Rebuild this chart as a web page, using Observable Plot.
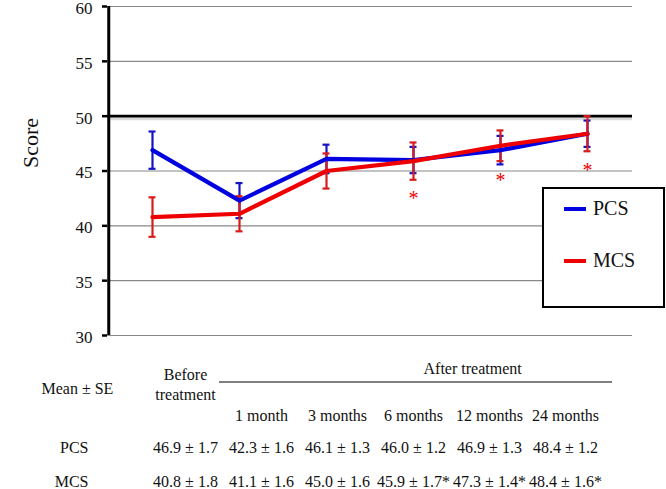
<!DOCTYPE html>
<html>
<head>
<meta charset="utf-8">
<script src="https://cdn.jsdelivr.net/npm/d3@7"></script>
<script src="https://cdn.jsdelivr.net/npm/@observablehq/plot@0.6"></script>
<style>
  html, body { margin: 0; padding: 0; background: #fff; }
  #wrap { position: relative; width: 666px; height: 489px; overflow: hidden; font-family: 'Liberation Serif', 'Times New Roman', serif; }
  #wrap svg { display: block; }
  #wrap svg text { font-family: 'Liberation Serif', 'Times New Roman', serif; }
  .legend { position: absolute; left: 542px; top: 187px; width: 119px; height: 117px; border: 2.5px solid #000; background: #fff; }
  .legend .item { position: absolute; left: 20px; display: flex; align-items: center; font-size: 20px; color: #111; font-family: 'Liberation Serif', serif; }
  .legend .sw { width: 22px; height: 4px; margin-right: 7px; }
</style>
</head>
<body>
<div id="wrap"></div>
<script>
// ---- data ----
const categories = ["Before treatment", "1 month", "3 months", "6 months", "12 months", "24 months"];
const headerLabels = ["Before\ntreatment", "1 month", "3 months", "6 months", "12 months", "24 months"];
const pcsMean = [46.9, 42.3, 46.1, 46.0, 46.9, 48.4];
const pcsSE   = [1.7, 1.6, 1.3, 1.2, 1.3, 1.2];
const mcsMean = [40.8, 41.1, 45.0, 45.9, 47.3, 48.4];
const mcsSE   = [1.8, 1.6, 1.6, 1.7, 1.4, 1.6];
const mcsSig  = [false, false, false, true, true, true];
const yTicks  = [30, 35, 40, 45, 50, 55, 60];
const gridTicks = [30, 35, 40, 45, 55, 60];
const refLine = [50];
const seriesNames = ["PCS", "MCS"];

const BLUE = "#0000E0", RED = "#EE0000", BLUE_ERR = "#1414C4", RED_ERR = "#D81C1C";
const FONT = "'Liberation Serif', 'Times New Roman', serif";

const pcs = categories.map((c, i) => ({cat: c, mean: pcsMean[i], se: pcsSE[i]}));
const mcs = categories.map((c, i) => ({cat: c, mean: mcsMean[i], se: mcsSE[i], sig: mcsSig[i]}));

const W = 666, ML = 107, MR = 34;
const step = (W - ML - MR) / categories.length;

function errMarks(data, color) {
  const capOpts = {x1: "cat", x2: "cat", stroke: color, strokeWidth: 2.2, insetLeft: -3.5, insetRight: -3.5};
  return [
    Plot.ruleX(data, {x: "cat", y1: d => d.mean - d.se, y2: d => d.mean + d.se, stroke: color, strokeWidth: 2.2}),
    Plot.ruleY(data, {y: d => d.mean - d.se, ...capOpts}),
    Plot.ruleY(data, {y: d => d.mean + d.se, ...capOpts})
  ];
}

const chart = Plot.plot({
  width: W, height: 340,
  marginLeft: ML, marginRight: MR, marginTop: 6, marginBottom: 5,
  style: {fontFamily: FONT, background: "#fff", overflow: "visible"},
  x: {type: "point", domain: categories, padding: 0.5, axis: null},
  y: {domain: [30, 60], axis: null},
  marks: [
    Plot.ruleY(gridTicks, {stroke: "#888", strokeWidth: 1.2}),
    Plot.ruleY(refLine, {stroke: "#999", strokeWidth: 3, dy: 2.5, strokeOpacity: 0.35}),
    Plot.ruleY(refLine, {stroke: "#000", strokeWidth: 2.8}),
    Plot.ruleX([categories[0]], {y1: 30, y2: 60, dx: -step / 2, stroke: "#000", strokeWidth: 3}),
    Plot.axisY(yTicks, {anchor: "left", tickSize: 5, strokeWidth: 2.5, stroke: "#000", text: null, label: null}),
    Plot.text(yTicks, {y: d => d, text: d => String(d), frameAnchor: "left", textAnchor: "end", dx: -15, dy: 2, fontSize: 17, fill: "#111"}),
    Plot.text(["Score"], {text: d => d, frameAnchor: "left", rotate: -90, dx: -77, dy: -3, fontSize: 22, fill: "#111"}),
    ...errMarks(pcs, BLUE_ERR),
    ...errMarks(mcs, RED_ERR),
    Plot.line(pcs, {x: "cat", y: "mean", stroke: BLUE, strokeWidth: 4.2}),
    Plot.line(mcs, {x: "cat", y: "mean", stroke: RED, strokeWidth: 4.2}),
    Plot.text(mcs.filter(d => d.sig), {x: "cat", y: d => d.mean - d.se, text: () => "*", dy: 19, fontSize: 20, fill: RED})
  ]
});

// ---- table below the chart ----
const fmt = (m, s) => `${m.toFixed(1)} ± ${s.toFixed(1)}`;
const rows = categories.map((c, i) => ({
  cat: c, head: headerLabels[i],
  pcs: fmt(pcsMean[i], pcsSE[i]),
  mcs: fmt(mcsMean[i], mcsSE[i]) + (mcsSig[i] ? "*" : "")
}));

const tstyle = {fontSize: 16, fill: "#111", lineAnchor: "middle"};
const table = Plot.plot({
  width: W, height: 149, margin: 0,
  style: {fontFamily: FONT, background: "#fff", overflow: "visible"},
  x: {type: "point", domain: categories, range: [145, 604], axis: null},
  marks: [
    Plot.text(["After treatment"], {text: d => d, frameAnchor: "top-left", dx: 423, dy: 28, ...tstyle}),
    Plot.text(["Mean ± SE"], {text: d => d, frameAnchor: "top-left", dx: 41, dy: 48, ...tstyle}),
    Plot.text([rows[0]], {x: "cat", text: "head", frameAnchor: "top", dy: 43, lineHeight: 1.25, ...tstyle}),
    Plot.text(rows.slice(1), {x: "cat", text: "head", frameAnchor: "top", dy: 75, ...tstyle}),
    Plot.text([seriesNames[0]], {text: d => d, frameAnchor: "top-left", dx: 88, dy: 107, textAnchor: "end", ...tstyle}),
    Plot.text([seriesNames[1]], {text: d => d, frameAnchor: "top-left", dx: 88, dy: 141, textAnchor: "end", ...tstyle}),
    Plot.text(rows, {x: "cat", text: "pcs", frameAnchor: "top", dy: 107, ...tstyle}),
    Plot.text(rows, {x: "cat", text: "mcs", frameAnchor: "top", dy: 141, ...tstyle})
  ]
});
// underline spanning the "after treatment" columns
const tx = table.scale("x");
d3.select(table).append("line")
  .attr("x1", tx.apply(categories[1]) - 42).attr("x2", tx.apply(categories[5]) + 47)
  .attr("y1", 42).attr("y2", 42)
  .attr("stroke", "#555").attr("stroke-width", 1.3);

const wrap = document.getElementById("wrap");
wrap.appendChild(chart);
wrap.appendChild(table);

// legend
const legend = document.createElement("div");
legend.className = "legend";
[[seriesNames[0], BLUE, 20], [seriesNames[1], RED, 72]].forEach(([name, col, top]) => {
  const it = document.createElement("div");
  it.className = "item";
  it.style.top = (top - 12) + "px";
  it.innerHTML = `<span class="sw" style="background:${col}"></span><span>${name}</span>`;
  legend.appendChild(it);
});
wrap.appendChild(legend);
</script>
</body>
</html>
